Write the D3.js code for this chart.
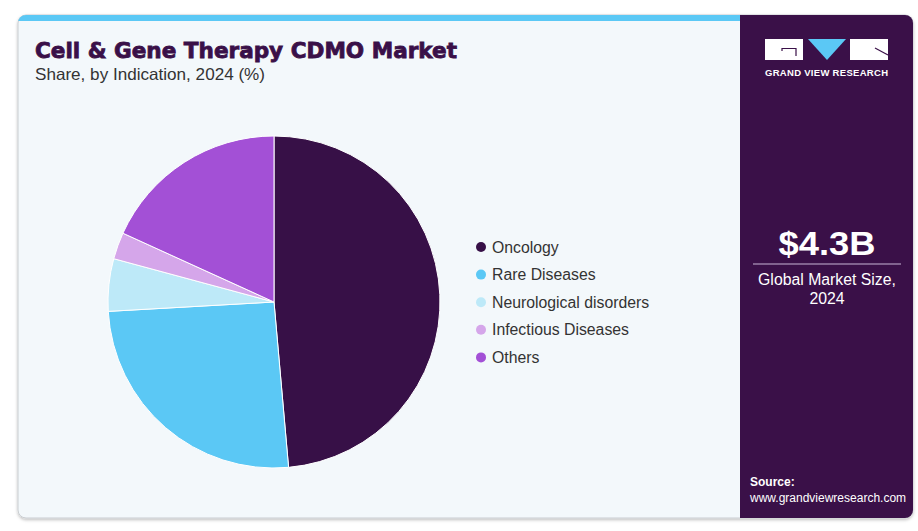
<!DOCTYPE html>
<html>
<head>
<meta charset="utf-8">
<script src="https://cdn.jsdelivr.net/npm/d3@7"></script>
<style>
  body { margin: 0; background: #fff; }
  svg { display: block; }
</style>
</head>
<body>
<svg id="chart" width="918" height="531"></svg>
<script>
// indication shares
const categories = ["Oncology", "Rare Diseases", "Neurological disorders", "Infectious Diseases", "Others"];
const shares = [48.6, 25.5, 5.1, 2.6, 18.2];
const colors = ["#371047", "#5bc8f5", "#bde9f8", "#d5a6ea", "#a350d6"];
const marketSize = "$4.3B";

const svg = d3.select("#chart");
const font = "'Liberation Sans', Arial, sans-serif";

// card with shadow
const defs = svg.append("defs");
const f = defs.append("filter").attr("id", "shadow").attr("x", "-5%").attr("y", "-5%").attr("width", "110%").attr("height", "115%");
f.append("feDropShadow").attr("dx", 0).attr("dy", 1.5).attr("stdDeviation", 1.5).attr("flood-color", "#000").attr("flood-opacity", 0.25);
defs.append("clipPath").attr("id", "card").append("rect")
  .attr("x", 18).attr("y", 15).attr("width", 895).attr("height", 503).attr("rx", 8);

svg.append("rect").attr("x", 18).attr("y", 15).attr("width", 895).attr("height", 503).attr("rx", 8)
  .attr("fill", "#f3f8fb").attr("stroke", "#c9cdd1").attr("filter", "url(#shadow)");

const card = svg.append("g").attr("clip-path", "url(#card)");
card.append("rect").attr("x", 18).attr("y", 15).attr("width", 722).attr("height", 6).attr("fill", "#5bc8f5");
card.append("rect").attr("x", 740).attr("y", 15).attr("width", 173).attr("height", 503).attr("fill", "#3a1048");

// titles
svg.append("text").attr("x", 35).attr("y", 58)
  .style("font-family", "'DejaVu Sans', sans-serif").style("font-weight", 900).style("font-size", "21px")
  .attr("fill", "#3a1048").attr("stroke", "#3a1048").attr("stroke-width", 0.8)
  .attr("textLength", 422).attr("lengthAdjust", "spacingAndGlyphs")
  .text("Cell & Gene Therapy CDMO Market");
svg.append("text").attr("x", 35).attr("y", 80)
  .style("font-family", font).style("font-size", "16.5px").attr("fill", "#333")
  .attr("textLength", 230).attr("lengthAdjust", "spacingAndGlyphs")
  .text("Share, by Indication, 2024 (%)");

// pie
const pie = d3.pie().sort(null).value(d => d)(shares);
const arc = d3.arc().innerRadius(0).outerRadius(166);
const color = d3.scaleOrdinal().domain(categories).range(colors);

svg.append("g").attr("transform", "translate(274,302)")
  .selectAll("path").data(pie).join("path")
  .attr("d", arc)
  .attr("fill", (d, i) => color(categories[i]))
  .attr("stroke", "#fff").attr("stroke-width", 1);

// legend
const legend = svg.append("g").attr("transform", "translate(481,247)")
  .selectAll("g").data(categories).join("g")
  .attr("transform", (d, i) => "translate(0," + i * 27.6 + ")");
legend.append("circle").attr("r", 5).attr("fill", d => color(d));
legend.append("text").attr("x", 11).attr("y", 5.5)
  .style("font-family", font).style("font-size", "15.8px").attr("fill", "#333")
  .text(d => d);

// logo
const logo = svg.append("g");
logo.append("rect").attr("x", 765).attr("y", 39).attr("width", 38).attr("height", 21).attr("fill", "#fff");
logo.append("path").attr("d", "M782,51 L782,48.5 L796,48.5 L796,56").attr("fill", "none").attr("stroke", "#3a1048").attr("stroke-width", 1.2);
logo.append("path").attr("d", "M808,39 L846,39 L827,60 Z").attr("fill", "#5bc8f5");
logo.append("rect").attr("x", 850).attr("y", 39).attr("width", 38).attr("height", 21).attr("fill", "#fff");
logo.append("path").attr("d", "M875,48 L888,55").attr("stroke", "#3a1048").attr("stroke-width", 1.2);
svg.append("text").attr("x", 826.5).attr("y", 76).attr("text-anchor", "middle")
  .style("font-family", font).style("font-weight", "bold").style("font-size", "9.5px")
  .attr("fill", "#fff").attr("textLength", 123).attr("lengthAdjust", "spacing")
  .text("GRAND VIEW RESEARCH");

// market size
svg.append("text").attr("x", 827).attr("y", 255).attr("text-anchor", "middle")
  .style("font-family", font).style("font-weight", "bold").style("font-size", "33px").attr("fill", "#fff")
  .attr("textLength", 97).attr("lengthAdjust", "spacingAndGlyphs")
  .text(marketSize);
svg.append("line").attr("x1", 753).attr("x2", 901).attr("y1", 264).attr("y2", 264)
  .attr("stroke", "#c7b6d6").attr("stroke-width", 1.2);
svg.append("text").attr("x", 827).attr("y", 285).attr("text-anchor", "middle")
  .style("font-family", font).style("font-size", "15.8px").attr("fill", "#fff")
  .text("Global Market Size,");
svg.append("text").attr("x", 827).attr("y", 304).attr("text-anchor", "middle")
  .style("font-family", font).style("font-size", "15.8px").attr("fill", "#fff")
  .text("2024");

// source
svg.append("text").attr("x", 750).attr("y", 486)
  .style("font-family", font).style("font-weight", "bold").style("font-size", "12px").attr("fill", "#fff")
  .text("Source:");
svg.append("text").attr("x", 750).attr("y", 502)
  .style("font-family", font).style("font-size", "12px").attr("fill", "#fff")
  .text("www.grandviewresearch.com");
</script>
</body>
</html>
